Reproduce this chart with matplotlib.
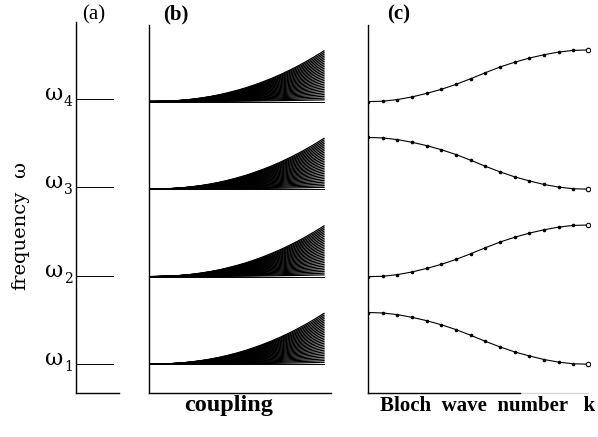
import numpy as np
import matplotlib
matplotlib.use("Agg")
import matplotlib.pyplot as plt

# ---- data ----
levels = [1, 2, 3, 4]                      # omega_1 .. omega_4
level_labels = ["1", "2", "3", "4"]
panel_labels = ["(a)", "(b)", "(c)"]

# panel (b): coupling axis and fan profile (normalized)
coupling = [0.00, 0.05, 0.10, 0.15, 0.20, 0.25, 0.30, 0.35, 0.40, 0.45, 0.50,
            0.55, 0.60, 0.65, 0.70, 0.75, 0.80, 0.85, 0.90, 0.95, 1.00]
fan_profile = [0.000, 0.001, 0.006, 0.015, 0.029, 0.047, 0.071, 0.099, 0.133,
               0.173, 0.218, 0.268, 0.325, 0.388, 0.456, 0.531, 0.612, 0.699,
               0.793, 0.893, 1.000]
fan_scales = [0.02, 0.04, 0.06, 0.08, 0.10, 0.12, 0.14, 0.16, 0.18, 0.20,
              0.22, 0.24, 0.26, 0.28, 0.30, 0.32, 0.34, 0.36, 0.38, 0.40,
              0.42, 0.44, 0.46, 0.48, 0.50, 0.52, 0.54, 0.56, 0.58]

# panel (c): Bloch wave number (0..pi normalised) and band offsets
bloch_k = [0.0, 1/15, 2/15, 3/15, 4/15, 5/15, 6/15, 7/15, 8/15, 9/15,
           10/15, 11/15, 12/15, 13/15, 14/15, 1.0]
band_rising = [0.000, 0.004, 0.023, 0.053, 0.094, 0.140, 0.197, 0.261, 0.330,
               0.395, 0.450, 0.497, 0.535, 0.566, 0.585, 0.590]
band_falling = [0.590, 0.585, 0.566, 0.535, 0.497, 0.450, 0.395, 0.330,
                0.261, 0.197, 0.140, 0.094, 0.053, 0.023, 0.004, 0.000]
band_shape = [band_falling, band_rising, band_falling, band_rising]

W, H = 598, 437
fig = plt.figure(figsize=(W / 100, H / 100), dpi=100)
plt.rcParams['font.family'] = ['DejaVu Serif']
SERIF = ['Liberation Serif', 'DejaVu Serif']

ylo, yhi = 1 - 29 / 88, 4 + 77 / 88
lw_axis = 1.0
lw_thin = 0.7


def px_axes(x0, x1, y0=22, y1=393):
    return fig.add_axes([x0 / W, 1 - y1 / H, (x1 - x0) / W, (y1 - y0) / H])


def style(ax):
    for s in ["top", "right"]:
        ax.spines[s].set_visible(False)
    for s in ["left", "bottom"]:
        ax.spines[s].set_linewidth(lw_axis)
        ax.spines[s].set_color("black")
    ax.set_xticks([])
    ax.set_yticks([])
    ax.set_ylim(ylo, yhi)
    ax.patch.set_alpha(0)


# ---- panel (a) ----
axa = px_axes(76, 119)
style(axa)
axa.set_xlim(0, 1)
for lv in levels:
    axa.plot([0, 0.86], [lv, lv], color="black", lw=lw_thin)

# ---- panel (b) ----
axb = px_axes(149, 331, y0=25)
style(axb)
axb.set_xlim(0, 182 / 175)
cp = np.array(coupling)
prof = np.array(fan_profile)
for lv in levels:
    axb.plot([0, 1], [lv, lv], color="black", lw=lw_thin)
    for s in fan_scales:
        axb.plot(cp, lv + s * prof, color="black", lw=0.9)

# ---- panel (c) ----
axc = px_axes(368, 590, y0=25)
style(axc)
axc.set_xlim(0, 222 / 220)
axc.spines["bottom"].set_bounds(0, (520 - 368) / 220)
axc.plot([(520 - 368) / 220, 1.0], [ylo, ylo], color="#d8d8d8", lw=lw_axis,
         clip_on=False)
kk = np.array(bloch_k)
for lv, band in zip(levels, band_shape):
    yy = lv + np.array(band)
    axc.plot(kk, yy, color="black", lw=0.8)
    axc.plot(kk[:-1], yy[:-1], "o", color="black", ms=2.6, mew=0)
    axc.plot(kk[-1:], yy[-1:], "o", mfc="white", mec="black", ms=3.2, mew=0.8)

# ---- texts ----
def ptext(x, y, s, **kw):
    fig.text(x / W, 1 - y / H, s, **kw)

ptext(94, 15, panel_labels[0], fontsize=15, ha="center", va="center",
      family=SERIF)
ptext(176, 14, panel_labels[1], fontsize=15, ha="center", va="center",
      fontweight="bold", family=SERIF)
ptext(399, 14, panel_labels[2], fontsize=15, ha="center", va="center",
      fontweight="bold", family=SERIF)

for lv, lab in zip(levels, level_labels):
    ypx = 22 + (yhi - lv) / (yhi - ylo) * (393 - 22)
    ptext(63, ypx - 5, "ω", fontsize=16, ha="right", va="center")
    ptext(64, ypx + 3, lab, fontsize=10, ha="left", va="center")

ptext(20, 240, "frequency", fontsize=14, rotation=90, ha="center",
      va="center")
ptext(20, 170, "ω", fontsize=14, rotation=90, ha="center", va="center")
ptext(229, 406, "coupling", fontsize=17.5, ha="center", va="center",
      fontweight="bold", family=SERIF)
ptext(488, 406, "Bloch  wave  number   k", fontsize=15, ha="center",
      va="center", fontweight="bold", family=SERIF)

fig.savefig("out.png", dpi=100)
